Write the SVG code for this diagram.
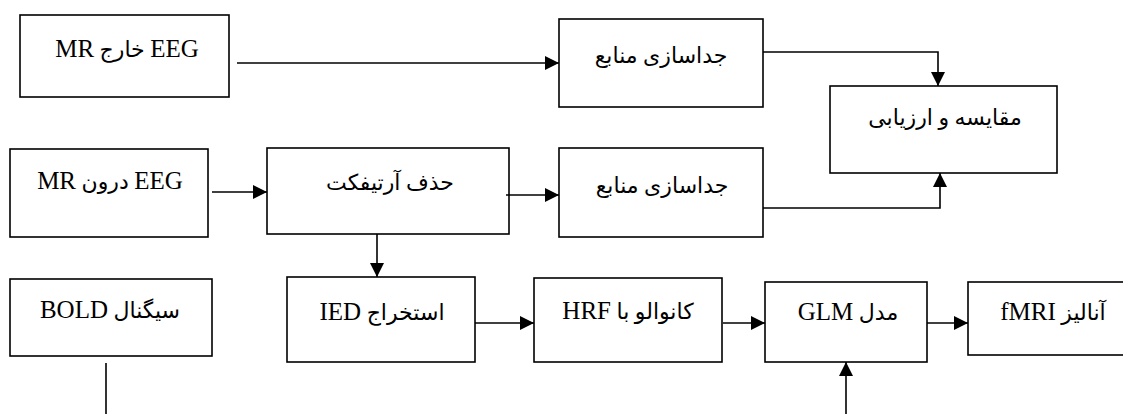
<svg xmlns="http://www.w3.org/2000/svg" width="1123" height="414" viewBox="0 0 1123 414">
<style>
.box{fill:#fff;stroke:#000;stroke-width:1.6}
.t{font-family:"Liberation Serif","DejaVu Sans",serif;font-size:22px;fill:#000;text-anchor:middle;direction:rtl;unicode-bidi:embed}
.l{font-size:25px}
.c{fill:none;stroke:#000;stroke-width:1.6}
</style>
<defs>
<marker id="ah" markerUnits="userSpaceOnUse" markerWidth="14" markerHeight="14" refX="14" refY="7" orient="auto">
<path d="M0,0 L14,7 L0,14 z" fill="#000"/>
</marker>
</defs>
<rect width="1123" height="414" fill="#fff"/>
<g id="n-eeg-out"><rect class="box" x="20" y="15" width="209" height="82"/><text class="t" x="127" y="57"><tspan class="l">EEG</tspan> خارج <tspan class="l">MR</tspan></text></g>
<g id="n-sep1"><rect class="box" x="559" y="19" width="204" height="88"/><text class="t" x="661" y="63">جداسازی منابع</text></g>
<g id="n-compare"><rect class="box" x="830" y="86" width="227" height="87"/><text class="t" x="945" y="125">مقایسه و ارزیابی</text></g>
<g id="n-eeg-in"><rect class="box" x="10" y="149" width="198" height="88"/><text class="t" x="110" y="189"><tspan class="l">EEG</tspan> درون <tspan class="l">MR</tspan></text></g>
<g id="n-artifact"><rect class="box" x="267" y="148" width="242" height="86"/><text class="t" x="390" y="190">حذف آرتیفکت</text></g>
<g id="n-sep2"><rect class="box" x="559" y="148" width="204" height="89"/><text class="t" x="662" y="193">جداسازی منابع</text></g>
<g id="n-bold"><rect class="box" x="10" y="279" width="202" height="77"/><text class="t" x="110" y="318">سیگنال <tspan class="l">BOLD</tspan></text></g>
<g id="n-ied"><rect class="box" x="287" y="277" width="188" height="85"/><text class="t" x="382" y="320">استخراج <tspan class="l">IED</tspan></text></g>
<g id="n-hrf"><rect class="box" x="534" y="278" width="188" height="84"/><text class="t" x="628" y="319">کانوالو با <tspan class="l">HRF</tspan></text></g>
<g id="n-glm"><rect class="box" x="765" y="282" width="162" height="80"/><text class="t" x="848" y="320">مدل <tspan class="l">GLM</tspan></text></g>
<g id="n-fmri"><rect class="box" x="968" y="282" width="172" height="73"/><text class="t" x="1053" y="320">آنالیز <tspan class="l">fMRI</tspan></text></g>
<g id="connectors">
<path class="c" d="M237,63 H559" marker-end="url(#ah)"/>
<path class="c" d="M763,52 H938 V86" marker-end="url(#ah)"/>
<path class="c" d="M212,192 H267" marker-end="url(#ah)"/>
<path class="c" d="M506,195 H559" marker-end="url(#ah)"/>
<path class="c" d="M763,208 H940 V173" marker-end="url(#ah)"/>
<path class="c" d="M377,234 V277" marker-end="url(#ah)"/>
<path class="c" d="M475,323 H534" marker-end="url(#ah)"/>
<path class="c" d="M723,323 H765" marker-end="url(#ah)"/>
<path class="c" d="M927,323 H968" marker-end="url(#ah)"/>
<path class="c" d="M106,363 V414"/>
<path class="c" d="M846,414 V362" marker-end="url(#ah)"/>
</g>
</svg>
